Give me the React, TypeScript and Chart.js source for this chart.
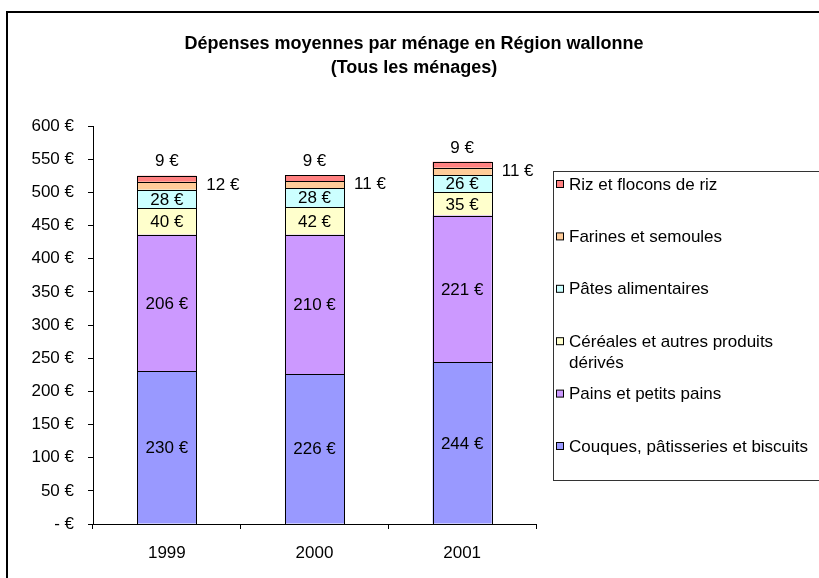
import React, { useEffect, useRef } from "react";
import { Chart, registerables } from "chart.js";
Chart.register(...registerables);

const titleLines = ["Dépenses moyennes par ménage en Région wallonne", "(Tous les ménages)"];
const categories = ["1999", "2000", "2001"];
const seriesNames = [
  "Couques, pâtisseries et biscuits",
  "Pains et petits pains",
  "Céréales et autres produits dérivés",
  "Pâtes alimentaires",
  "Farines et semoules",
  "Riz et flocons de riz",
];
const legendLines = [
  ["Couques, pâtisseries et biscuits"],
  ["Pains et petits pains"],
  ["Céréales et autres produits", "dérivés"],
  ["Pâtes alimentaires"],
  ["Farines et semoules"],
  ["Riz et flocons de riz"],
];
const couques = [230, 226, 244];
const pains = [206, 210, 221];
const cereales = [40, 42, 35];
const pates = [28, 28, 26];
const farines = [12, 11, 11];
const riz = [9, 9, 9];
const seriesValues = [couques, pains, cereales, pates, farines, riz];
const seriesColors = ["#9999FF", "#CC99FF", "#FFFFCC", "#CCFFFF", "#FFCC99", "#FF8080"];
const yMin = 0;
const yMax = 600;
const yStep = 50;

const FONT = "'Liberation Sans', Arial, sans-serif";

const euro = (v: number) => (v === 0 ? "- €" : `${v} €`);

const decorPlugin = {
  id: "decor",
  beforeDraw(chart: any) {
    const ctx = chart.ctx;
    ctx.save();
    ctx.fillStyle = "#fff";
    ctx.fillRect(0, 0, chart.width, chart.height);
    ctx.strokeStyle = "#000";
    ctx.lineWidth = 2;
    ctx.strokeRect(7, 12, 900, 900);
    ctx.restore();
  },
  afterDatasetsDraw(chart: any) {
    const ctx = chart.ctx;
    ctx.save();
    ctx.strokeStyle = "#000";
    ctx.lineWidth = 1;
    for (let i = 0; i < seriesValues.length; i++) {
      const meta = chart.getDatasetMeta(i);
      meta.data.forEach((bar: any) => {
        const l = Math.round(bar.x - bar.width / 2);
        const r = Math.round(bar.x + bar.width / 2);
        const t = Math.round(Math.min(bar.y, bar.base));
        const b = Math.round(Math.max(bar.y, bar.base));
        ctx.strokeRect(l + 0.5, t + 0.5, r - l, b - t);
      });
    }
    ctx.restore();
  },
  afterDraw(chart: any) {
    const ctx = chart.ctx;
    ctx.save();
    // title
    ctx.fillStyle = "#000";
    ctx.font = `bold 18px ${FONT}`;
    ctx.textAlign = "center";
    ctx.textBaseline = "middle";
    ctx.fillText(titleLines[0], 414, 44);
    ctx.fillText(titleLines[1], 414, 68);

    // data labels
    ctx.font = `17px ${FONT}`;
    const n = seriesValues.length;
    for (let i = 0; i < n; i++) {
      const meta = chart.getDatasetMeta(i);
      meta.data.forEach((bar: any, j: number) => {
        const v = seriesValues[i][j];
        const txt = euro(v);
        if (i === n - 1) {
          ctx.textAlign = "center";
          ctx.fillText(txt, bar.x, bar.y - 14);
        } else if (i === n - 2) {
          ctx.textAlign = "left";
          ctx.fillText(txt, bar.x + bar.width / 2 + 10, (bar.y + bar.base) / 2);
        } else {
          ctx.textAlign = "center";
          ctx.fillText(txt, bar.x, (bar.y + bar.base) / 2 + 1);
        }
      });
    }

    // legend
    ctx.strokeStyle = "#333";
    ctx.lineWidth = 1;
    ctx.strokeRect(553.5, 171.5, 400, 309);
    ctx.textAlign = "left";
    for (let k = 0; k < n; k++) {
      const i = n - 1 - k;
      const y = 185 + k * 52.4;
      ctx.fillStyle = seriesColors[i];
      ctx.fillRect(556.5, y - 4.5, 7, 7);
      ctx.strokeStyle = "#000";
      ctx.strokeRect(556.5, y - 4.5, 7, 7);
      ctx.fillStyle = "#000";
      legendLines[i].forEach((line, li) => {
        ctx.fillText(line, 569, y + li * 21);
      });
    }
    ctx.restore();
  },
};

export default function App() {
  const ref = useRef<HTMLCanvasElement>(null);
  useEffect(() => {
    document.body.style.margin = "0";
    const chart = new Chart(ref.current!, {
      type: "bar",
      data: {
        labels: categories,
        datasets: seriesValues.map((vals, i) => ({
          label: seriesNames[i],
          data: vals,
          backgroundColor: seriesColors[i],
          borderWidth: 0,
          barPercentage: 0.4,
          categoryPercentage: 1,
        })),
      },
      options: {
        responsive: false,
        animation: false,
        layout: { padding: { left: 0, right: 283, top: 126, bottom: 0 } },
        plugins: {
          legend: { display: false },
          title: { display: false },
          tooltip: { enabled: false },
        },
        scales: {
          x: {
            stacked: true,
            grid: { display: true, drawOnChartArea: false, drawTicks: true, tickLength: 5, color: "#000", offset: true },
            border: { display: true, color: "#000", width: 1 },
            ticks: { color: "#000", font: { size: 17, family: FONT }, padding: 14 },
            afterFit: (s: any) => {
              s.height = 54;
            },
          },
          y: {
            stacked: true,
            min: yMin,
            max: yMax,
            grid: { display: true, drawOnChartArea: false, drawTicks: true, tickLength: 5, color: "#000" },
            border: { display: true, color: "#000", width: 1 },
            ticks: {
              stepSize: yStep,
              color: "#000",
              font: { size: 17, family: FONT },
              padding: 14,
              callback: (v: any) => euro(Number(v)),
            },
            afterFit: (s: any) => {
              s.width = 93;
            },
          },
        },
      },
      plugins: [decorPlugin],
    });
    return () => chart.destroy();
  }, []);
  return <canvas ref={ref} width={819} height={578} style={{ display: "block" }} />;
}
